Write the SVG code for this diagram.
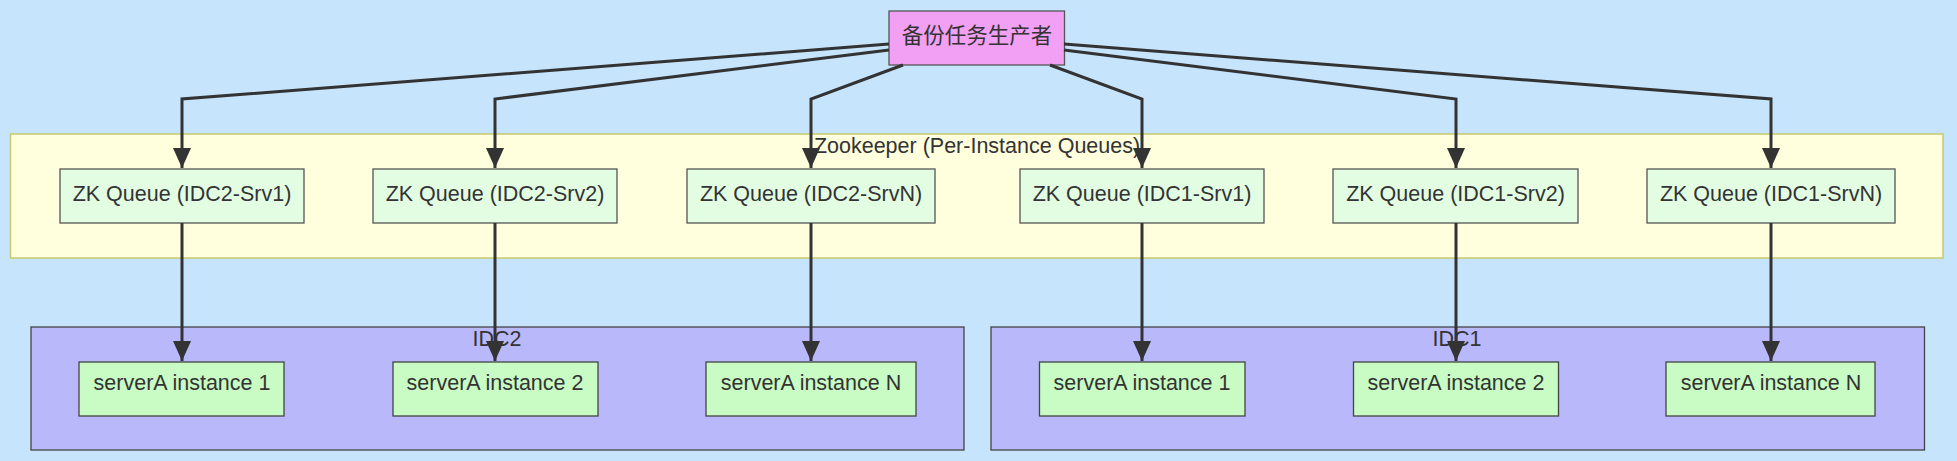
<svg xmlns="http://www.w3.org/2000/svg" width="1957" height="461" viewBox="0 0 1957 461">
<style>
text{font-family:"Liberation Sans","Noto Sans CJK SC",sans-serif;font-size:21.5px;fill:#333;text-anchor:middle;dominant-baseline:central}
.zk{fill:#e3fde3;stroke:#555;stroke-width:1.3}
.sv{fill:#c8fcc4;stroke:#444;stroke-width:1.3}
.idc{fill:#b8b8fa;stroke:#444;stroke-width:1.3}
.e{fill:none;stroke:#333;stroke-width:3}
</style>
<defs><marker id="a" viewBox="0 0 20 18" refX="20" refY="9" markerWidth="20" markerHeight="18" orient="auto" markerUnits="userSpaceOnUse"><path d="M0,0L20,9L0,18z" fill="#333"/></marker></defs>
<rect width="1957" height="461" fill="#c6e4fb"/>
<g id="zookeeper"><rect x="10.5" y="134" width="1932.5" height="124" fill="#ffffde" stroke="#c8c870" stroke-width="1.5"/><text x="977" y="146">Zookeeper (Per-Instance Queues)</text></g>
<g id="idc2"><rect class="idc" x="31" y="327" width="933" height="123"/><text x="497" y="339">IDC2</text></g>
<g id="idc1"><rect class="idc" x="991" y="327" width="933.5" height="123"/><text x="1457" y="339">IDC1</text></g>
<g id="producer"><rect x="889" y="11" width="175.5" height="54" fill="#f2a0f4" stroke="#555" stroke-width="1.3"/><text x="977" y="36">备份任务生产者</text></g>
<g id="zk1"><rect class="zk" x="60" y="169" width="244" height="54"/><text x="182" y="194">ZK Queue (IDC2-Srv1)</text></g>
<g id="zk2"><rect class="zk" x="373" y="169" width="244" height="54"/><text x="495" y="194">ZK Queue (IDC2-Srv2)</text></g>
<g id="zk3"><rect class="zk" x="687" y="169" width="248" height="54"/><text x="811" y="194">ZK Queue (IDC2-SrvN)</text></g>
<g id="zk4"><rect class="zk" x="1020" y="169" width="244" height="54"/><text x="1142" y="194">ZK Queue (IDC1-Srv1)</text></g>
<g id="zk5"><rect class="zk" x="1333" y="169" width="245" height="54"/><text x="1455.5" y="194">ZK Queue (IDC1-Srv2)</text></g>
<g id="zk6"><rect class="zk" x="1647" y="169" width="248" height="54"/><text x="1771" y="194">ZK Queue (IDC1-SrvN)</text></g>
<g id="s1"><rect class="sv" x="79" y="362" width="205" height="54"/><text x="182" y="383">serverA instance 1</text></g>
<g id="s2"><rect class="sv" x="393" y="362" width="205" height="54"/><text x="495" y="383">serverA instance 2</text></g>
<g id="s3"><rect class="sv" x="706" y="362" width="210" height="54"/><text x="811" y="383">serverA instance N</text></g>
<g id="s4"><rect class="sv" x="1039.5" y="362" width="205.5" height="54"/><text x="1142" y="383">serverA instance 1</text></g>
<g id="s5"><rect class="sv" x="1353.5" y="362" width="205" height="54"/><text x="1456" y="383">serverA instance 2</text></g>
<g id="s6"><rect class="sv" x="1666" y="362" width="209" height="54"/><text x="1771" y="383">serverA instance N</text></g>
<g id="connectors">
<path class="e" marker-end="url(#a)" d="M889,44L182,99L182,168"/>
<path class="e" marker-end="url(#a)" d="M889,50L495,99L495,168"/>
<path class="e" marker-end="url(#a)" d="M903,65L811,99L811,168"/>
<path class="e" marker-end="url(#a)" d="M1050,65L1142,99L1142,168"/>
<path class="e" marker-end="url(#a)" d="M1064,50L1456,99L1456,168"/>
<path class="e" marker-end="url(#a)" d="M1064,44L1771,99L1771,168"/>
<path class="e" marker-end="url(#a)" d="M182,223L182,361"/>
<path class="e" marker-end="url(#a)" d="M495,223L495,361"/>
<path class="e" marker-end="url(#a)" d="M811,223L811,361"/>
<path class="e" marker-end="url(#a)" d="M1142,223L1142,361"/>
<path class="e" marker-end="url(#a)" d="M1456,223L1456,361"/>
<path class="e" marker-end="url(#a)" d="M1771,223L1771,361"/>
</g>
</svg>
